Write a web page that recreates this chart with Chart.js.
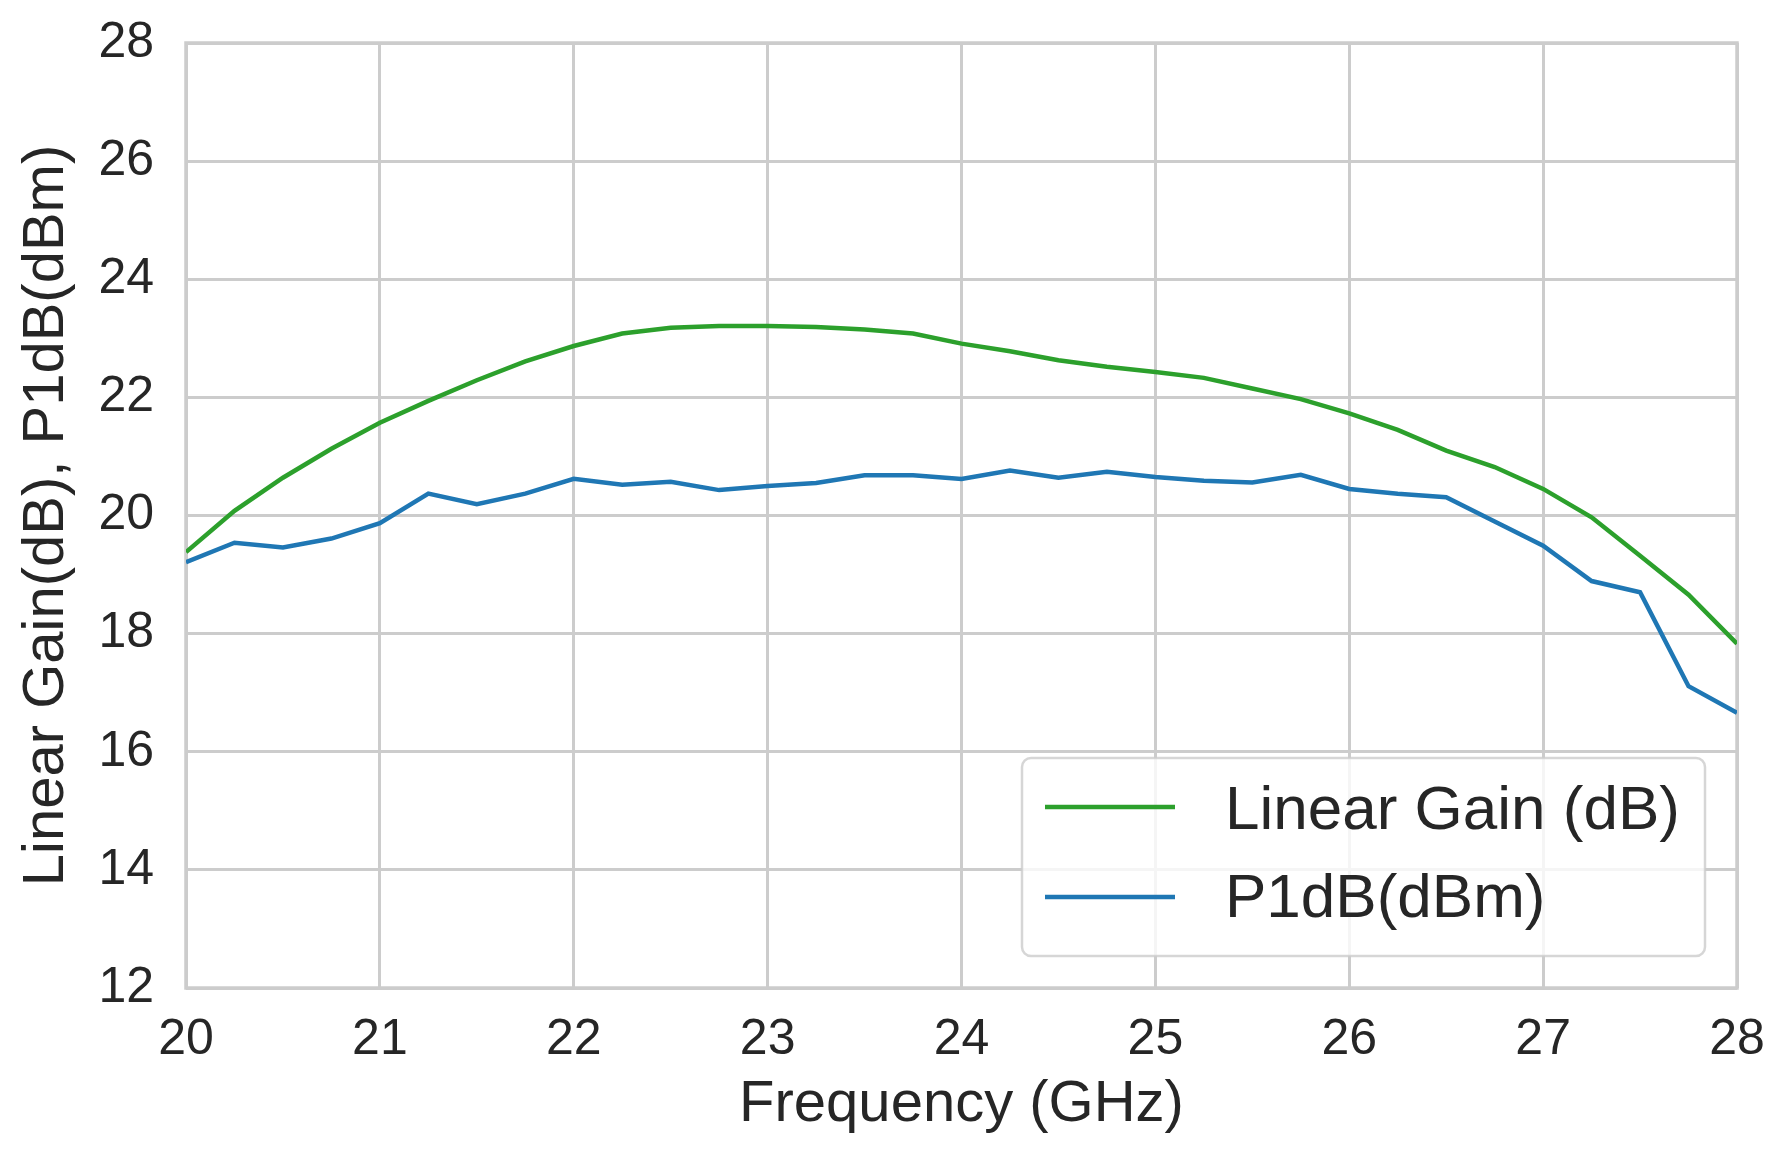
<!DOCTYPE html>
<html>
<head>
<meta charset="utf-8">
<script src="https://cdn.jsdelivr.net/npm/chart.js@4.4.1/dist/chart.umd.min.js"></script>
<style>
html,body{margin:0;padding:0;background:#fff;}
#wrap{width:1791px;height:1163px;position:relative;}
</style>
</head>
<body>
<div id="wrap"><canvas id="c"></canvas></div>
<script>
const freq = [20,20.25,20.5,20.75,21,21.25,21.5,21.75,22,22.25,22.5,22.75,23,23.25,23.5,23.75,24,24.25,24.5,24.75,25,25.25,25.5,25.75,26,26.25,26.5,26.75,27,27.25,27.5,27.75,28];
const linearGain = [19.38,20.08,20.64,21.13,21.57,21.94,22.29,22.61,22.87,23.08,23.18,23.21,23.21,23.19,23.15,23.08,22.91,22.78,22.63,22.52,22.43,22.33,22.15,21.97,21.73,21.45,21.10,20.82,20.45,19.97,19.32,18.66,17.83];
const p1dB = [19.21,19.54,19.46,19.61,19.87,20.37,20.19,20.37,20.62,20.52,20.57,20.43,20.50,20.55,20.68,20.68,20.62,20.76,20.64,20.74,20.65,20.59,20.56,20.69,20.45,20.37,20.31,19.90,19.49,18.89,18.70,17.11,16.66];
const seriesLabels = ["Linear Gain (dB)", "P1dB(dBm)"];
const xTitle = "Frequency (GHz)";
const yTitle = "Linear Gain(dB), P1dB(dBm)";

const FONT = "'Liberation Sans', Arial, Helvetica, sans-serif";
const TEXT = "#262626";
const GRID = "#cccccc";

const toPts = ys => freq.map((f,i)=>({x:f,y:ys[i]}));

const frame = {
  id:'frame',
  beforeDatasetsDraw(chart){
    const {ctx, chartArea:a} = chart;
    ctx.save();
    ctx.strokeStyle = GRID;
    ctx.lineWidth = 3.5;
    ctx.strokeRect(a.left, a.top, a.right-a.left, a.bottom-a.top);
    ctx.restore();
  }
};

const legendBox = {
  id:'legendBox',
  afterDraw(chart){
    const {ctx, chartArea:a} = chart;
    const right = a.right - 32, bottom = a.bottom - 32;
    const w = 683, h = 198;
    const left = right - w, top = bottom - h;
    ctx.save();
    ctx.beginPath();
    const r = 9;
    ctx.moveTo(left+r, top);
    ctx.arcTo(right, top, right, bottom, r);
    ctx.arcTo(right, bottom, left, bottom, r);
    ctx.arcTo(left, bottom, left, top, r);
    ctx.arcTo(left, top, right, top, r);
    ctx.closePath();
    ctx.fillStyle = "rgba(255,255,255,0.8)";
    ctx.fill();
    ctx.strokeStyle = "rgba(204,204,204,0.8)";
    ctx.lineWidth = 2.5;
    ctx.stroke();
    const rows = [{ly: top+49, by: top+71}, {ly: top+139, by: top+159}];
    chart.data.datasets.forEach((ds, i) => {
      const row = rows[i];
      ctx.beginPath();
      ctx.strokeStyle = ds.borderColor;
      ctx.lineWidth = 4.5;
      ctx.moveTo(left+23, row.ly);
      ctx.lineTo(left+153, row.ly);
      ctx.stroke();
      ctx.fillStyle = TEXT;
      ctx.font = "62px " + FONT;
      ctx.textBaseline = "alphabetic";
      ctx.textAlign = "left";
      ctx.fillText(ds.label, left+203, row.by);
    });
    ctx.restore();
  }
};

new Chart(document.getElementById('c'), {
  type:'line',
  data:{
    datasets:[
      {label:seriesLabels[0], data:toPts(linearGain), borderColor:"#2ca02c", borderWidth:4.5, pointRadius:0, fill:false, tension:0},
      {label:seriesLabels[1], data:toPts(p1dB), borderColor:"#1f77b4", borderWidth:4.5, pointRadius:0, fill:false, tension:0}
    ]
  },
  options:{
    responsive:true,
    maintainAspectRatio:false,
    animation:false,
    devicePixelRatio:1,
    layout:{padding:{left:0, top:43, right:54, bottom:0}},
    plugins:{legend:{display:false}, tooltip:{enabled:false}},
    scales:{
      x:{
        type:'linear', min:20, max:28,
        afterFit(s){ s.height = 175; s.paddingLeft = 0; s.paddingRight = 0; },
        ticks:{stepSize:1, color:TEXT, font:{family:FONT, size:50}, padding:22, maxRotation:0},
        grid:{color:GRID, lineWidth:3, drawTicks:false},
        border:{display:false},
        title:{display:true, text:xTitle, color:TEXT, font:{family:FONT, size:58}, padding:{top:0, bottom:23}}
      },
      y:{
        type:'linear', min:12, max:28,
        afterFit(s){ s.width = 186; s.paddingTop = 0; s.paddingBottom = 0; },
        ticks:{stepSize:2, color:TEXT, font:{family:FONT, size:50}, padding:32},
        grid:{color:GRID, lineWidth:3, drawTicks:false},
        border:{display:false},
        title:{display:true, text:yTitle, color:TEXT, font:{family:FONT, size:58}, padding:{top:12, bottom:0}}
      }
    }
  },
  plugins:[frame, legendBox]
});
</script>
</body>
</html>
